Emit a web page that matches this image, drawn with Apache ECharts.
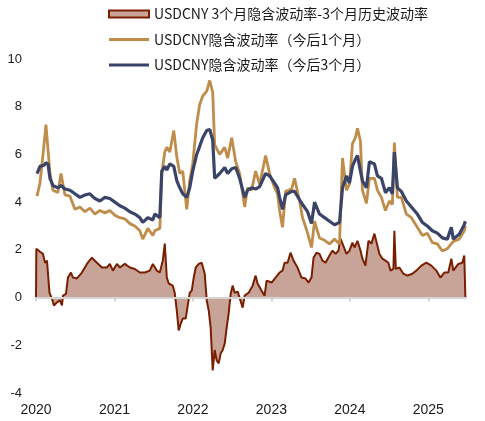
<!DOCTYPE html>
<html>
<head>
<meta charset="utf-8">
<script src="https://cdn.jsdelivr.net/npm/echarts@6/dist/echarts.min.js"></script>
<style>
html,body{margin:0;padding:0;background:#fff;}
#chart{width:485px;height:421px;}
</style>
</head>
<body>
<div id="chart"></div>
<script>
// Legend names
var seriesNames = [
  'USDCNY 3个月隐含波动率-3个月历史波动率',
  'USDCNY隐含波动率（今后1个月）',
  'USDCNY隐含波动率（今后3个月）'
];
var yearTicks = [2020, 2021, 2022, 2023, 2024, 2025];

// Time (fractional years) for the two implied-vol lines
var lineYears = [2020.013,2020.051,2020.102,2020.127,2020.153,2020.178,2020.216,2020.280,2020.318,2020.369,
 2020.433,2020.496,2020.560,2020.623,2020.687,2020.751,2020.814,2020.878,2020.941,2021.005,
 2021.069,2021.132,2021.196,2021.260,2021.323,2021.361,2021.425,2021.489,2021.514,2021.578,
 2021.603,2021.641,2021.667,2021.705,2021.756,2021.794,2021.832,2021.870,2021.921,2021.959,
 2021.997,2022.048,2022.087,2022.125,2022.176,2022.214,2022.252,2022.277,2022.341,2022.405,
 2022.443,2022.494,2022.545,2022.595,2022.659,2022.697,2022.748,2022.799,2022.850,2022.875,
 2022.926,2022.977,2023.041,2023.079,2023.104,2023.142,2023.181,2023.257,2023.295,2023.359,
 2023.397,2023.461,2023.511,2023.550,2023.613,2023.677,2023.740,2023.804,2023.868,2023.906,
 2023.957,2023.995,2024.033,2024.071,2024.097,2024.135,2024.160,2024.211,2024.249,2024.313,
 2024.351,2024.402,2024.453,2024.504,2024.542,2024.567,2024.606,2024.656,2024.720,2024.784,
 2024.860,2024.924,2024.987,2025.051,2025.115,2025.178,2025.242,2025.293,2025.318,2025.394,
 2025.458,2025.471];

// USDCNY implied vol, next 3 months
var iv3m = [5.2,5.5,5.55,5.65,5.6,5.0,4.7,4.6,4.7,4.55,
 4.5,4.35,4.2,4.3,4.35,4.15,4.05,4.2,4.15,4.0,
 3.85,3.75,3.6,3.5,3.35,3.15,3.35,3.25,3.5,3.35,
 5.3,5.5,5.35,5.6,5.5,4.9,4.6,4.35,4.2,4.6,
 5.3,6.0,6.35,6.7,7.0,7.05,6.6,5.0,5.2,5.45,
 5.2,5.4,5.45,5.0,4.2,4.5,4.6,4.55,4.65,4.7,
 5.2,5.1,4.8,4.6,4.2,3.7,4.3,4.45,4.45,4.1,
 3.9,3.6,3.1,4.0,3.5,3.35,3.2,3.05,3.15,4.6,
 5.1,4.8,5.5,5.8,5.95,5.3,4.9,4.6,5.7,5.6,
 5.1,5.0,4.4,4.6,4.35,6.1,4.6,4.45,4.05,3.8,
 3.5,3.15,3.0,2.8,2.7,2.5,2.45,2.95,2.45,2.65,
 3.05,3.2];

// USDCNY implied vol, next 1 month
var iv1m = [4.25,4.8,6.4,7.25,6.2,5.2,4.5,4.4,5.2,4.3,
 4.25,3.7,3.8,3.6,3.75,3.5,3.65,3.55,3.65,3.45,
 3.35,3.3,3.1,3.0,2.8,2.45,2.9,2.6,2.8,2.9,
 5.2,6.1,6.3,6.1,7.0,5.9,5.2,5.3,3.7,4.9,
 5.6,7.3,8.1,8.45,8.65,9.1,8.6,6.4,6.0,6.3,
 5.85,6.7,5.7,5.2,3.8,4.6,4.5,5.3,4.75,4.8,
 5.95,5.2,4.6,4.35,3.65,2.95,4.45,4.55,5.0,4.05,
 3.35,2.7,2.1,3.2,2.5,2.4,2.25,2.45,2.25,5.85,
 4.5,4.75,6.45,6.7,7.1,6.55,4.5,3.95,5.0,5.0,
 4.5,4.2,3.65,4.05,3.9,6.5,4.2,4.2,3.5,3.35,
 2.95,2.6,2.7,2.3,2.25,1.95,2.05,2.25,2.35,2.45,
 2.8,3.0];

// Time (fractional years) for the spread series
var spreadYears = [2020.000,2020.004,2020.051,2020.089,2020.115,2020.140,2020.153,2020.172,2020.204,2020.229,
 2020.267,2020.305,2020.331,2020.344,2020.382,2020.407,2020.445,2020.471,2020.522,2020.585,
 2020.649,2020.712,2020.776,2020.840,2020.903,2020.941,2020.980,2021.031,2021.069,2021.132,
 2021.196,2021.260,2021.323,2021.387,2021.450,2021.489,2021.539,2021.578,2021.616,2021.641,
 2021.667,2021.692,2021.743,2021.768,2021.794,2021.819,2021.845,2021.870,2021.908,2021.934,
 2021.959,2021.985,2022.010,2022.036,2022.074,2022.112,2022.150,2022.176,2022.201,2022.226,
 2022.252,2022.277,2022.303,2022.328,2022.354,2022.379,2022.405,2022.430,2022.455,2022.481,
 2022.506,2022.532,2022.570,2022.595,2022.634,2022.659,2022.710,2022.761,2022.799,2022.824,
 2022.875,2022.913,2022.939,2023.003,2023.053,2023.104,2023.142,2023.168,2023.206,2023.244,
 2023.282,2023.333,2023.384,2023.435,2023.473,2023.511,2023.537,2023.575,2023.613,2023.651,
 2023.690,2023.715,2023.740,2023.779,2023.817,2023.855,2023.880,2023.906,2023.931,2023.957,
 2023.995,2024.033,2024.059,2024.097,2024.135,2024.160,2024.198,2024.237,2024.275,2024.313,
 2024.338,2024.377,2024.415,2024.453,2024.491,2024.517,2024.555,2024.567,2024.586,2024.631,
 2024.682,2024.733,2024.796,2024.847,2024.911,2024.975,2025.038,2025.102,2025.153,2025.204,
 2025.254,2025.293,2025.318,2025.382,2025.433,2025.458,2025.472];

// 3M implied vol minus 3M historical vol
var spread = [0,2.05,1.92,1.83,1.46,1.55,1.0,0.2,-0.05,-0.33,
 -0.2,-0.12,-0.33,0.08,0.15,0.84,1.05,0.84,0.8,1.05,
 1.41,1.67,1.46,1.26,1.26,1.41,1.13,1.41,1.26,1.41,
 1.26,1.2,1.05,1.05,1.13,1.41,1.13,1.05,1.55,2.26,
 0.84,0.59,0.5,0.2,-0.54,-1.38,-1.09,-0.88,-0.88,-0.33,
 0.2,0.29,0.84,1.26,1.41,1.46,1.0,-0.12,-0.54,-1.26,
 -3.05,-2.2,-2.64,-2.76,-2.34,-2.2,-1.93,-1.26,-0.67,0.15,
 0.5,0.2,0.25,0.2,-0.42,0.08,0.2,0.5,0.92,0.59,
 0.29,0.08,0.71,0.63,0.84,1.05,1.13,1.46,1.46,1.88,
 1.55,1.26,0.84,0.8,0.63,0.84,1.67,1.88,1.83,1.55,
 1.46,1.41,1.76,1.97,1.83,1.97,2.47,2.26,2.26,1.83,
 1.97,2.3,2.1,2.38,1.97,1.63,1.34,2.38,2.26,2.68,
 2.6,1.83,1.63,1.55,1.46,1.13,1.2,2.8,1.2,1.26,
 1.0,0.92,1.0,1.13,1.34,1.46,1.34,1.13,0.84,1.05,
 1.05,1.63,1.13,1.41,1.46,1.76,0];

function zip(xs, ys) { return xs.map(function (x, i) { return [x, ys[i]]; }); }

var chart = echarts.init(document.getElementById('chart'));
var labelFont = 'Liberation Sans, Arial, sans-serif';
var lineIcon = 'path://M0,0H40V3H0Z';
chart.setOption({
  animation: false,
  backgroundColor: '#ffffff',
  legend: {
    orient: 'vertical',
    left: 108,
    top: 7,
    padding: 0,
    itemWidth: 40,
    itemHeight: 7,
    itemGap: 11.5,
    symbolKeepAspect: true,
    textStyle: { fontFamily: 'Noto Sans CJK SC', fontSize: 14, color: '#1a1a1a' },
    data: [
      { name: seriesNames[0], icon: 'rect', itemStyle: { color: '#C8A498', borderColor: '#7A1E00', borderWidth: 2 } },
      { name: seriesNames[1], icon: lineIcon, itemStyle: { color: '#C08C4A', borderWidth: 0 } },
      { name: seriesNames[2], icon: lineIcon, itemStyle: { color: '#3A4468', borderWidth: 0 } }
    ]
  },
  grid: { left: 36, top: 59, width: 430, height: 334 },
  xAxis: [
    {
      type: 'value', min: 2020, max: 2025.48, position: 'bottom',
      axisLine: { show: false, onZero: false },
      axisTick: { show: false },
      splitLine: { show: false },
      axisLabel: {
        customValues: yearTicks,
        margin: 10, fontSize: 14, fontFamily: labelFont, color: '#1a1a1a',
        formatter: function (v) { return String(v); }
      }
    },
    {
      type: 'value', min: 2020, max: 2025.48, position: 'bottom', z: 10,
      axisLine: { show: true, onZero: true, lineStyle: { color: '#D4D4D4', width: 2 } },
      axisTick: { show: true, customValues: yearTicks, length: 4, lineStyle: { color: '#D4D4D4', width: 2 } },
      splitLine: { show: false },
      axisLabel: { show: false }
    }
  ],
  yAxis: {
    type: 'value', min: -4, max: 10, interval: 2,
    axisLine: { show: false },
    axisTick: { show: false },
    splitLine: { show: false },
    axisLabel: { margin: 14, fontSize: 13, fontFamily: labelFont, color: '#1a1a1a' }
  },
  series: [
    {
      name: seriesNames[0], type: 'line', xAxisIndex: 0, symbol: 'none',
      data: zip(spreadYears, spread),
      lineStyle: { color: '#7A1E00', width: 2 },
      itemStyle: { color: '#7A1E00' },
      areaStyle: { color: '#C8A498', opacity: 1 }
    },
    {
      name: seriesNames[1], type: 'line', xAxisIndex: 0, symbol: 'none',
      data: zip(lineYears, iv1m),
      lineStyle: { color: '#C08C4A', width: 2.8 },
      itemStyle: { color: '#C08C4A' }
    },
    {
      name: seriesNames[2], type: 'line', xAxisIndex: 0, symbol: 'none',
      data: zip(lineYears, iv3m),
      lineStyle: { color: '#3A4468', width: 3.2 },
      itemStyle: { color: '#3A4468' }
    }
  ]
});
</script>
</body>
</html>
